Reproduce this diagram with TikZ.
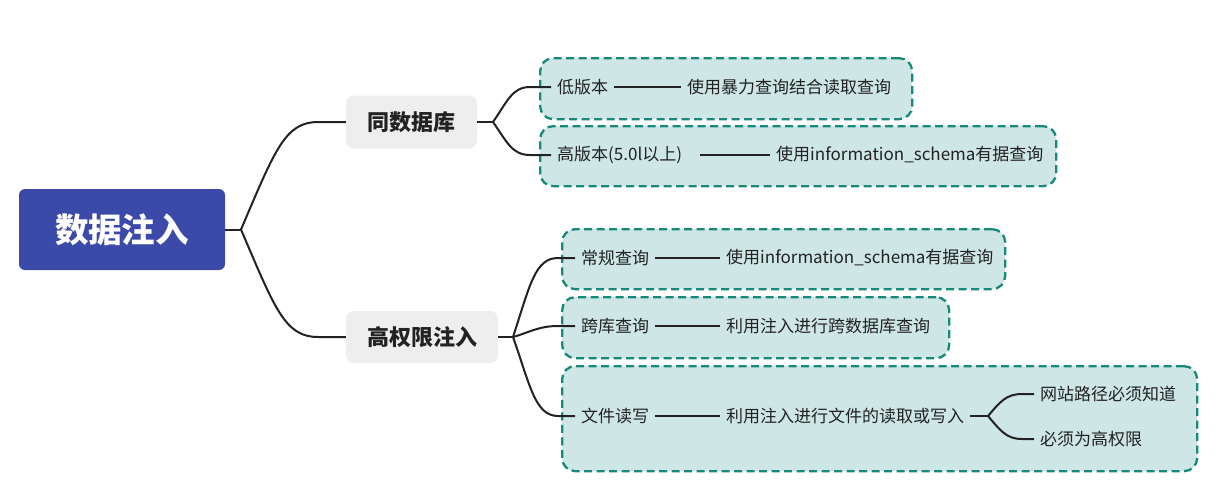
\documentclass[tikz,border=0pt]{standalone}
\usepackage{fontspec}
\setmainfont{Noto Sans CJK SC}
\definecolor{rootblue}{RGB}{59,73,168}
\definecolor{midgray}{RGB}{238,238,238}
\definecolor{grpfill}{RGB}{206,230,229}
\definecolor{grpline}{RGB}{22,137,122}
\definecolor{inkc}{RGB}{34,34,34}
\tikzset{
  rootbox/.style={fill=rootblue, rounded corners=6pt, text=white, inner sep=0pt,
    font=\fontsize{33.5}{38}\selectfont\bfseries},
  midbox/.style={fill=midgray, rounded corners=8pt, text=inkc, inner sep=0pt,
    font=\fontsize{22}{26}\selectfont\bfseries},
  grpbox/.style={draw=grpline, fill=grpfill, line width=2.3pt, dash pattern=on 8pt off 4.5pt,
    rounded corners=13pt, inner sep=0pt, anchor=north west},
  leaf/.style={text=inkc, inner xsep=6pt, inner ysep=2pt, anchor=west,
    font=\fontsize{17}{20}\selectfont},
  conn/.style={draw=inkc, line width=2pt},
}
\begin{document}
\begin{tikzpicture}[x=1pt,y=-1pt]
\useasboundingbox (0,0) rectangle (1227,499);
% group boxes
\node[grpbox, minimum width=372, minimum height=61] (g1) at (539,57) {};
\node[grpbox, minimum width=516, minimum height=60] (g2) at (539,125) {};
\node[grpbox, minimum width=443, minimum height=60] (g3) at (561,228) {};
\node[grpbox, minimum width=387, minimum height=61] (g4) at (561,296) {};
\node[grpbox, minimum width=635, minimum height=105] (g5) at (561,365) {};
% main nodes
\node[rootbox, minimum width=206, minimum height=81] (root) at (122,229.5) {数据注入};
\node[midbox, minimum width=131, minimum height=53] (m1) at (411.5,122) {同数据库};
\node[midbox, minimum width=152, minimum height=52] (m2) at (422,337) {高权限注入};
% leaves
\node[leaf] (l1a) at (551,87) {低版本};
\node[leaf] (l1b) at (681,87) {使用暴力查询结合读取查询};
\node[leaf] (l2a) at (551,155) {高版本(5.0l以上)};
\node[leaf] (l2b) at (770,155) {使用information\_schema有据查询};
\node[leaf] (l3a) at (575,258) {常规查询};
\node[leaf] (l3b) at (720,258) {使用information\_schema有据查询};
\node[leaf] (l4a) at (575,326) {跨库查询};
\node[leaf] (l4b) at (720,326) {利用注入进行跨数据库查询};
\node[leaf] (l5a) at (575,416) {文件读写};
\node[leaf] (l5b) at (720,416) {利用注入进行文件的读取或写入};
\node[leaf] (l5c) at (1034,394) {网站路径必须知道};
\node[leaf] (l5d) at (1034,439) {必须为高权限};
% junctions
\coordinate (j0) at (241,229.5);
\coordinate (j1) at (493,122);
\coordinate (j2) at (513,337);
\coordinate (j5) at (988,416);
% root branches
\draw[conn] (root.east) -- (j0);
\draw[conn] (j0) .. controls (275,150) and (285,122) .. (318,122) -- (m1.west);
\draw[conn] (j0) .. controls (275,309) and (285,337) .. (318,337) -- (m2.west);
% m1 branches
\draw[conn] (m1.east) -- (j1);
\draw[conn] (j1) .. controls (507,102) and (512,87) .. (530,87) -- (l1a.west);
\draw[conn] (j1) .. controls (507,142) and (512,155) .. (530,155) -- (l2a.west);
% m2 branches
\draw[conn] (m2.east) -- (j2);
\draw[conn] (j2) .. controls (530,285) and (535,258) .. (558,258) -- (l3a.west);
\draw[conn] (j2) .. controls (528,333) and (538,326) .. (558,326) -- (l4a.west);
\draw[conn] (j2) .. controls (530,385) and (535,416) .. (558,416) -- (l5a.west);
% inner lines
\draw[conn] (l1a.east) -- (l1b.west);
\draw[conn] ([xshift=12pt]l2a.east) -- (l2b.west);
\draw[conn] (l3a.east) -- (l3b.west);
\draw[conn] (l4a.east) -- (l4b.west);
\draw[conn] (l5a.east) -- (l5b.west);
\draw[conn] (l5b.east) -- (j5);
\draw[conn] (j5) .. controls (1000,402) and (1006,394) .. (1022,394) -- (l5c.west);
\draw[conn] (j5) .. controls (1000,430) and (1006,439) .. (1022,439) -- (l5d.west);
\end{tikzpicture}
\end{document}
